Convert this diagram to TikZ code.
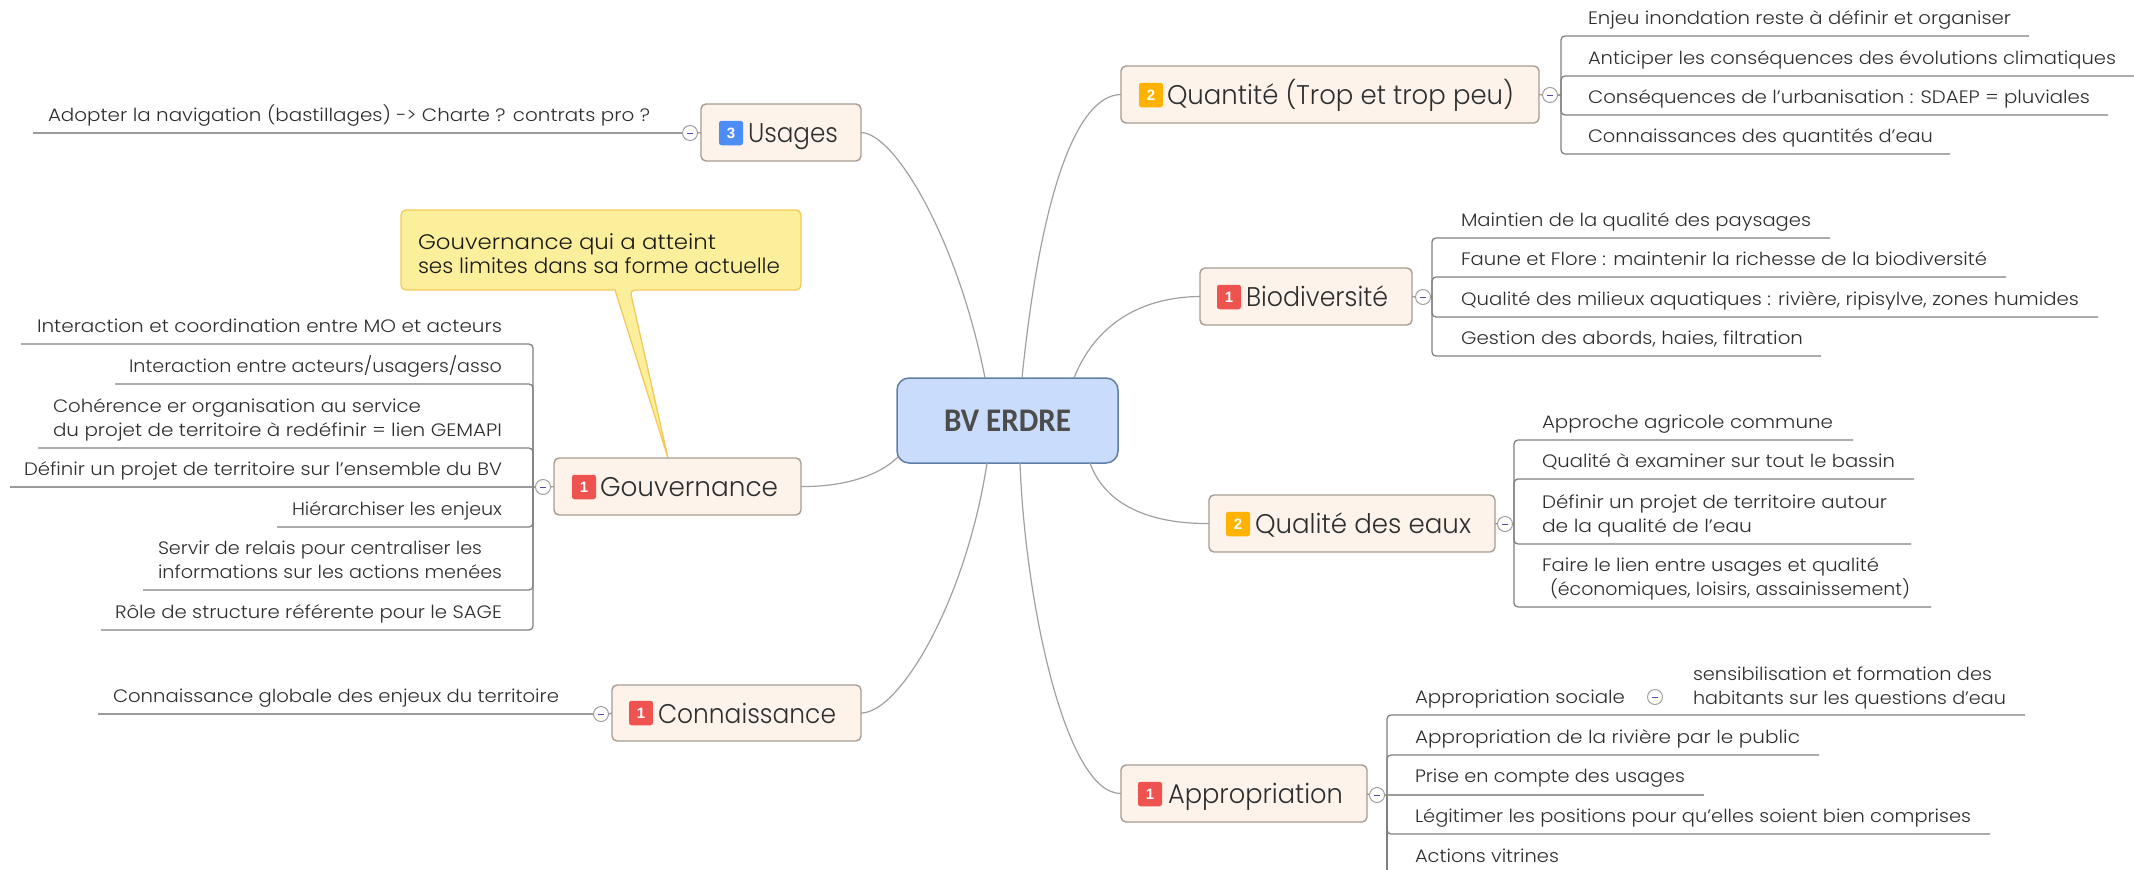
\documentclass[tikz,border=0pt]{standalone}
\usepackage{fontspec}
\usepackage{graphicx}
\setmainfont{Poppins}[UprightFont=* Light]
\newfontfamily\centerfont{Carlito}[BoldFont=* Bold]
\newfontfamily\digitfont{Liberation Sans}
\definecolor{boxfill}{HTML}{FDF3EA}
\definecolor{boxline}{HTML}{A89C90}
\definecolor{txt}{HTML}{2E2E2E}
\definecolor{leafline}{HTML}{808080}
\definecolor{straightline}{HTML}{9C9C9C}
\definecolor{conn}{HTML}{A0A0A0}
\definecolor{centerfill}{HTML}{C9DCFC}
\definecolor{centerline}{HTML}{5F7FA8}
\definecolor{noteFill}{HTML}{FBEF9B}
\definecolor{noteLine}{HTML}{F5C85A}
\definecolor{bRed}{HTML}{EF5350}
\definecolor{bOrange}{HTML}{FFB300}
\definecolor{bBlue}{HTML}{4C8CF5}
\newlength{\fitlen}
\newcommand{\fitw}[2]{\settowidth{\fitlen}{#2}\pgfmathsetmacro{\fitr}{#1/(\fitlen/1pt)}\scalebox{\fitr}[1]{#2}}
\newcommand{\twol}[4]{\vbox{\baselineskip=24pt\lineskiplimit=-20pt\hbox{\fitw{#1}{#2}}\hbox{\fitw{#3}{#4}}}}
\newcommand{\twolin}[5]{\vbox{\baselineskip=24pt\lineskiplimit=-20pt\hbox{\fitw{#1}{#2}}\hbox{\hspace*{#5pt}\fitw{#3}{#4}}}}
\tikzset{
  x=1pt,y=-1pt,
  leaf/.style={inner sep=0pt,outer sep=0pt,text=txt,font=\fontsize{18}{18}\selectfont,anchor=base west},
  topic/.style={inner sep=0pt,outer sep=0pt,text=txt,font=\fontsize{27}{27}\selectfont,anchor=base west},
  notetext/.style={inner sep=0pt,outer sep=0pt,text=black!90,font=\fontsize{21}{21}\selectfont,anchor=base west},
  topicbox/.style={draw=boxline,fill=boxfill,line width=1.4pt,rounded corners=5pt,inner sep=0pt,outer sep=0pt},
  badge/.style={rounded corners=2.5pt,inner sep=0pt,outer sep=0pt,text=white,font=\digitfont\fontsize{15}{15}\selectfont\bfseries,minimum width=24pt,minimum height=24.5pt},
  collapse/.style={circle,draw=leafline!75,fill=white,line width=1pt,minimum size=15pt,inner sep=0pt,outer sep=0pt,
    path picture={\draw[line width=1pt,draw=blue!40!gray] (path picture bounding box.center)+(-3pt,0pt) -- +(3pt,0pt);}},
  uline/.style={draw=straightline,line width=1.3pt},
  bracket/.style={draw=leafline,line width=1.3pt,rounded corners=4pt},
  conline/.style={draw=conn,line width=1.2pt}
}
% name, spine, text x, line y, end x, node text
\newcommand{\lf}[6]{%
  \node[leaf] (#1) at (#3,#4-12) {#6};
  \coordinate (#1e) at (#5,#4);
  \draw[bracket] (#1e) -- (#1e -| #2) -- (#2);
}
% the same, with the line running straight into the spine height
\newcommand{\lfs}[6]{%
  \node[leaf] (#1) at (#3,#4-12) {#6};
  \coordinate (#1e) at (#5,#4);
  \draw[uline] (#1e) -- (#2);
}
\newcommand{\tbox}[5]{\node[topicbox,minimum width=#4pt-#2pt,minimum height=#5pt-#3pt] (#1) at ({(#2+#4)/2},{(#3+#5)/2}) {};}
% name, centre x, centre y, colour, digit
\newcommand{\bdg}[5]{\node[badge,fill=#4] (#1) at (#2,#3) {#5};}
\begin{document}
\begin{tikzpicture}
\useasboundingbox (0,0) rectangle (2134,870);

% central topic
\node[draw=centerline,fill=centerfill,line width=1.5pt,rounded corners=12pt,minimum width=221pt,minimum height=85pt,inner sep=0pt,outer sep=0pt] (bv) at (1007.5,420.5) {};
\node[inner sep=0pt,outer sep=0pt,anchor=base west,text=black!70,font=\centerfont\fontsize{33}{33}\selectfont\bfseries] (bvt) at (944,431) {\fitw{127}{BV ERDRE}};
\coordinate (bvU) at (985,378);
\coordinate (bvQ) at (1022,378);
\coordinate (bvB) at (1074,378);
\coordinate (bvG) at (898,457);
\coordinate (bvC) at (987,463);
\coordinate (bvA) at (1020,463);
\coordinate (bvE) at (1090,463);

% callout
\draw[draw=noteLine,fill=noteFill,line width=1.3pt,rounded corners=5pt] (401,210) -- (801,210) -- (801,290) -- (630,290) [sharp corners] -- (668,458) -- (615,290) [rounded corners=5pt] -- (401,290) -- cycle;
\node[notetext] (note) at (418,273) {\twol{298}{Gouvernance qui a atteint}{362}{ses limites dans sa forme actuelle}};

% topics
\tbox{us}{701}{104}{861}{161}
\tbox{go}{554}{458}{801}{515}
\tbox{co}{612}{685}{861}{741}
\tbox{qu}{1121}{66}{1539}{123}
\tbox{bi}{1200}{268}{1412}{325}
\tbox{qe}{1209}{495}{1495}{552}
\tbox{ap}{1121}{765}{1367}{822}

\bdg{usb}{731}{133}{bBlue}{3}
\bdg{gob}{584}{487}{bRed}{1}
\bdg{cob}{641}{713}{bRed}{1}
\bdg{qub}{1151}{95}{bOrange}{2}
\bdg{bib}{1229}{297}{bRed}{1}
\bdg{qeb}{1238}{524}{bOrange}{2}
\bdg{apb}{1150}{794}{bRed}{1}

\node[topic] (ust) at (748,142) {\fitw{90}{Usages}};
\node[topic] (got) at (600,496) {\fitw{178}{Gouvernance}};
\node[topic] (cot) at (658,723) {\fitw{178}{Connaissance}};
\node[topic] (qut) at (1167,104) {\fitw{347}{Quantité (Trop et trop peu)}};
\node[topic] (bit) at (1246,306) {\fitw{142}{Biodiversité}};
\node[topic] (qet) at (1255,533) {\fitw{216}{Qualité des eaux}};
\node[topic] (apt) at (1168,803) {\fitw{175}{Appropriation}};

% connectors to the centre
\draw[conline] (us.east) .. controls (895,133) and (958,240) .. (bvU);
\draw[conline] (go.east) .. controls (845,487) and (880,475) .. (bvG);
\draw[conline] (co.east) .. controls (900,713) and (966,600) .. (bvC);
\draw[conline] (qu.west) .. controls (1075,95) and (1040,200) .. (bvQ);
\draw[conline] (bi.west) .. controls (1140,297) and (1095,325) .. (bvB);
\draw[conline] (qe.west) .. controls (1150,524) and (1105,505) .. (bvE);
\draw[conline] (ap.west) .. controls (1065,794) and (1025,600) .. (bvA);

% collapse marks and spines
\node[collapse] (usc) at (690,133) {};
\node[collapse] (goc) at (543,487) {};
\node[collapse] (coc) at (601,714) {};
\node[collapse] (quc) at (1550,95) {};
\node[collapse] (bic) at (1423,297) {};
\node[collapse] (qec) at (1505,524) {};
\node[collapse] (apc) at (1377,795) {};
\coordinate (gos) at (533,487);
\coordinate (qus) at (1561,95);
\coordinate (bis) at (1432,297);
\coordinate (qes) at (1514,524);
\coordinate (aps) at (1387,795);
\draw[uline] (usc.east) -- (us.west);
\draw[uline] (goc.east) -- (go.west);
\draw[uline] (coc.east) -- (co.west);
\draw[uline] (quc.west) -- (qu.east);
\draw[uline] (bic.west) -- (bi.east);
\draw[uline] (qec.west) -- (qe.east);
\draw[uline] (apc.west) -- (ap.east);
\draw[uline] (goc.west) -- (gos);
\draw[uline] (quc.east) -- (qus);
\draw[uline] (bic.east) -- (bis);
\draw[uline] (qec.east) -- (qes);
\draw[uline] (apc.east) -- (aps);

% Usages
\lfs{u1}{usc.west}{48}{133}{33}{\fitw{602}{Adopter la navigation (bastillages) -> Charte ? contrats pro ?}}

% Gouvernance
\lf{g1}{gos}{37}{344}{21}{\fitw{465}{Interaction et coordination entre MO et acteurs}}
\lf{g2}{gos}{129}{384}{115}{\fitw{373}{Interaction entre acteurs/usagers/asso}}
\lf{g3}{gos}{53}{448}{38}{\twol{368}{Cohérence er organisation au service}{449}{du projet de territoire à redéfinir = lien GEMAPI}}
\lfs{g4}{gos}{24}{487}{10}{\fitw{478}{Définir un projet de territoire sur l'ensemble du BV}}
\lf{g5}{gos}{292}{527}{277}{\fitw{210}{Hiérarchiser les enjeux}}
\lf{g6}{gos}{158}{590}{143}{\twol{324}{Servir de relais pour centraliser les}{344}{informations sur les actions menées}}
\lf{g7}{gos}{115}{630}{101}{\fitw{387}{Rôle de structure référente pour le SAGE}}

% Connaissance
\lfs{c1}{coc.west}{113}{714}{98}{\fitw{446}{Connaissance globale des enjeux du territoire}}

% Quantité
\lf{q1}{qus}{1588}{36}{2029}{\fitw{423}{Enjeu inondation reste à définir et organiser}}
\lf{q2}{qus}{1588}{76}{2134}{\fitw{528}{Anticiper les conséquences des évolutions climatiques}}
\lf{q3}{qus}{1588}{115}{2108}{\fitw{502}{Conséquences de l'urbanisation : SDAEP = pluviales}}
\lf{q4}{qus}{1588}{154}{1950}{\fitw{345}{Connaissances des quantités d'eau}}

% Biodiversité
\lf{b1}{bis}{1461}{238}{1830}{\fitw{350}{Maintien de la qualité des paysages}}
\lf{b2}{bis}{1461}{277}{2006}{\fitw{526}{Faune et Flore : maintenir la richesse de la biodiversité}}
\lf{b3}{bis}{1461}{317}{2098}{\fitw{618}{Qualité des milieux aquatiques : rivière, ripisylve, zones humides}}
\lf{b4}{bis}{1461}{356}{1821}{\fitw{342}{Gestion des abords, haies, filtration}}

% Qualité des eaux
\lf{e1}{qes}{1542}{440}{1853}{\fitw{291}{Approche agricole commune}}
\lf{e2}{qes}{1542}{479}{1914}{\fitw{353}{Qualité à examiner sur tout le bassin}}
\lf{e3}{qes}{1542}{544}{1911}{\twol{345}{Définir un projet de territoire autour}{210}{de la qualité de l'eau}}
\lf{e4}{qes}{1542}{607}{1931}{\twolin{337}{Faire le lien entre usages et qualité}{360}{(économiques, loisirs, assainissement)}{8}}

% Appropriation
\node[leaf] (a1) at (1415,703) {\fitw{210}{Appropriation sociale}};
\node[collapse] (a1c) at (1655,697) {};
\node[leaf] (a1s) at (1693,704) {\twol{299}{sensibilisation et formation des}{313}{habitants sur les questions d'eau}};
\coordinate (a1e) at (2025,715);
\draw[bracket] (a1e) -- (a1e -| aps) -- (aps);
\lf{a2}{aps}{1415}{755}{1819}{\fitw{385}{Appropriation de la rivière par le public}}
\node[leaf] (a3) at (1415,782) {\fitw{270}{Prise en compte des usages}};
\coordinate (a3e) at (1704,795);
\draw[uline] (a3e) -- (aps);
\lf{a4}{aps}{1415}{834}{1990}{\fitw{556}{Légitimer les positions pour qu'elles soient bien comprises}}
\node[leaf] (a5) at (1415,862) {\fitw{144}{Actions vitrines}};
\coordinate (a5e) at (1387,870);
\draw[bracket] (aps) -- (a5e);
\end{tikzpicture}
\end{document}
